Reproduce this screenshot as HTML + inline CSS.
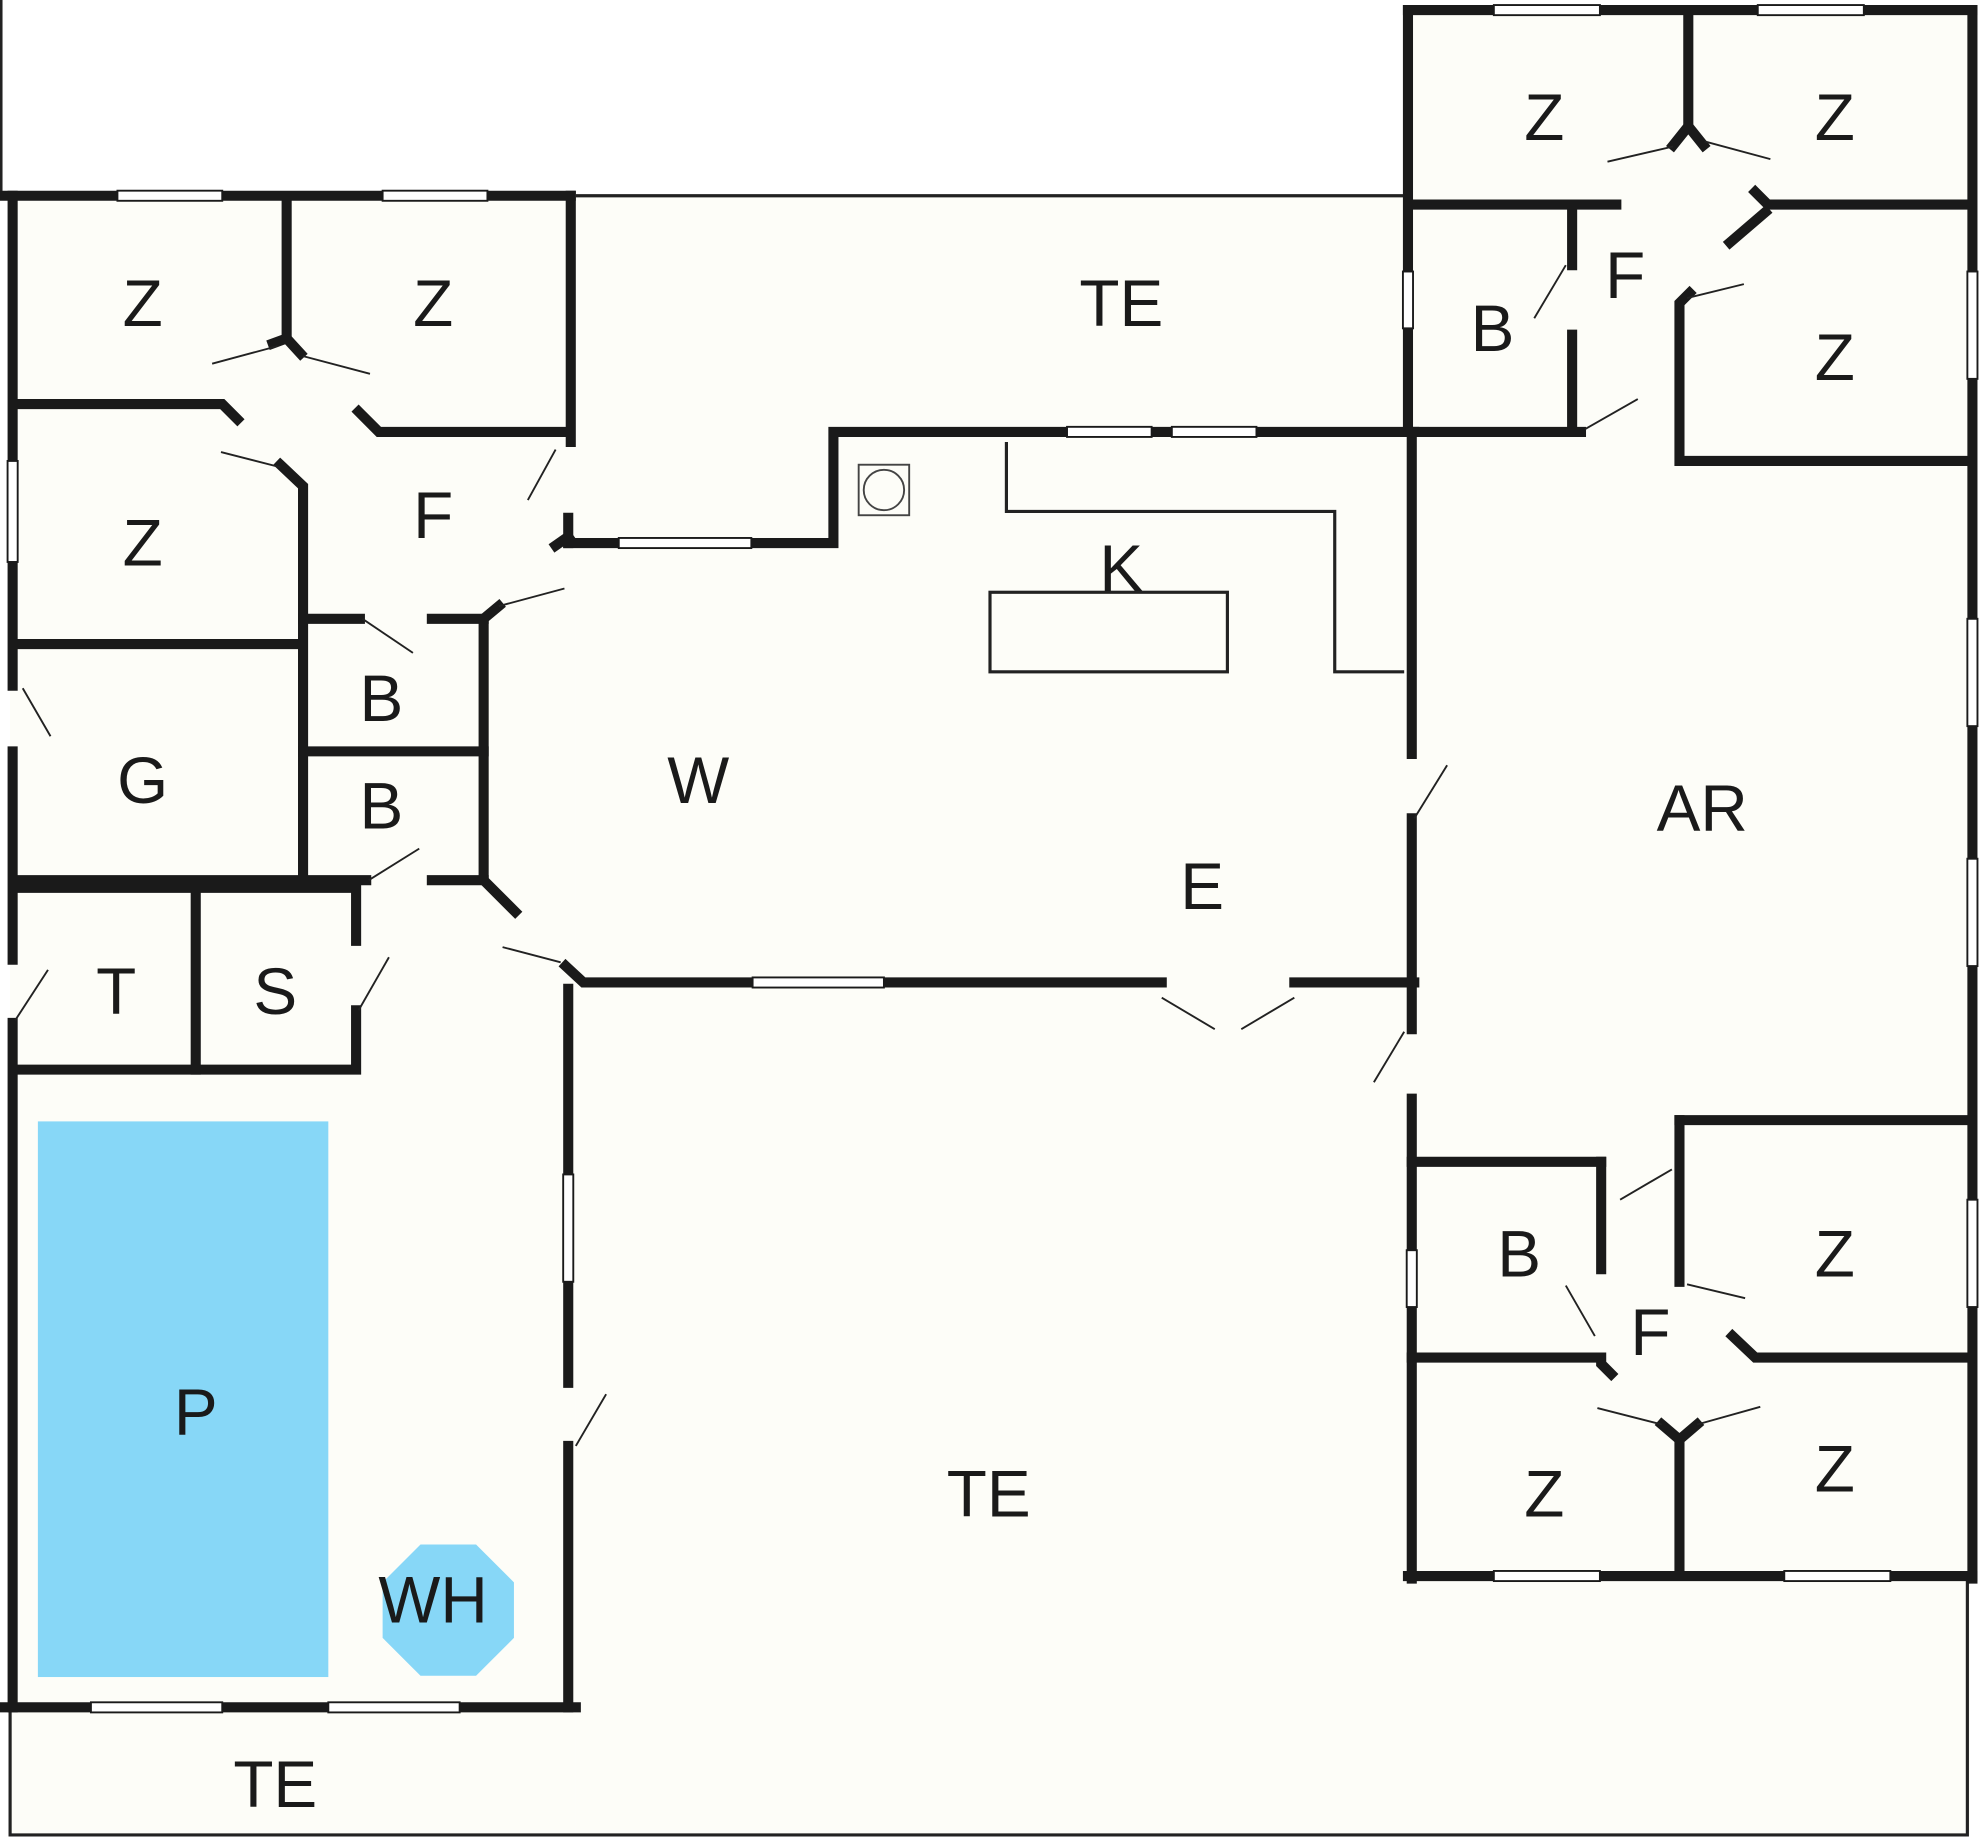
<!DOCTYPE html>
<html><head><meta charset="utf-8"><style>
html,body{margin:0;padding:0;background:#fff;}
svg{display:block;}
text{font-family:"Liberation Sans",sans-serif;font-size:52px;fill:#1a1a1a;text-anchor:middle;}
</style></head><body>
<svg width="1980" height="1845" viewBox="0 0 1568 1461" preserveAspectRatio="none" xmlns="http://www.w3.org/2000/svg">
<rect width="1568" height="1461" fill="#fff"/>
<!-- floor fills -->
<g fill="#fdfdf8">
<rect x="8" y="152" width="448" height="1300"/>
<rect x="456" y="155" width="660" height="1200"/>
<rect x="1112" y="5" width="450" height="1245"/>
<rect x="456" y="1250" width="1104" height="203"/>
</g>
<line x1="1" y1="0" x2="1" y2="152" stroke="#222" stroke-width="2"/>
<!-- thin terrace lines -->
<g stroke="#222" stroke-width="2.5" fill="none">
<line x1="456" y1="155" x2="1112" y2="155"/>
<polyline points="8,1355 8,1453 1558,1453 1558,1250"/>
<polyline points="797,350 797,405 1057,405 1057,532 1112,532"/>
<rect x="784" y="469" width="188" height="63"/>
</g>
<rect x="680" y="368" width="40" height="40" fill="none" stroke="#444" stroke-width="1.5"/>
<circle cx="700" cy="388" r="16" fill="none" stroke="#444" stroke-width="1.5"/>
<!-- pool -->
<rect x="30" y="888" width="230" height="440" fill="#87d7f7"/>
<polygon points="333,1223 377,1223 407,1253 407,1297 377,1327 333,1327 303,1297 303,1253" fill="#87d7f7"/>
<!-- walls -->
<g stroke="#1a1a1a" stroke-width="8" fill="none" stroke-linecap="square">
<line x1="0" y1="155" x2="452" y2="155"/>
<line x1="10" y1="155" x2="10" y2="365"/>
<line x1="10" y1="445" x2="10" y2="543"/>
<line x1="10" y1="595" x2="10" y2="760"/>
<line x1="10" y1="810" x2="10" y2="1352"/>
<line x1="452" y1="155" x2="452" y2="350"/>
<line x1="450" y1="410" x2="450" y2="430"/>
<line x1="227" y1="160" x2="227" y2="268"/>
<polyline points="12,320 176,320 188,332"/>
<polyline points="284,326 300,342 448,342"/>
<polyline points="222,368 240,385 240,695"/>
<line x1="12" y1="510" x2="236" y2="510"/>
<line x1="240" y1="490" x2="285" y2="490"/>
<line x1="342" y1="490" x2="383" y2="490"/>
<line x1="240" y1="595" x2="383" y2="595"/>
<line x1="12" y1="697" x2="290" y2="697"/>
<line x1="342" y1="697" x2="383" y2="697"/>
<polyline points="395,480 383,490 383,697 408,722"/>
<line x1="440" y1="432" x2="450" y2="425"/>
<polyline points="450,430 660,430 660,342 1120,342"/>
<line x1="12" y1="703" x2="278" y2="703"/>
<line x1="155" y1="703" x2="155" y2="847"/>
<line x1="282" y1="703" x2="282" y2="745"/>
<polyline points="282,800 282,847 12,847"/>
<polyline points="448,765 462,778 920,778"/>
<line x1="1025" y1="778" x2="1120" y2="778"/>
<line x1="450" y1="783" x2="450" y2="1095"/>
<line x1="450" y1="1145" x2="450" y2="1352"/>
<line x1="0" y1="1352" x2="456" y2="1352"/>
<line x1="1118" y1="348" x2="1118" y2="597"/>
<line x1="1118" y1="648" x2="1118" y2="815"/>
<line x1="1118" y1="870" x2="1118" y2="1250"/>
<line x1="1115" y1="8" x2="1115" y2="340"/>
<line x1="1115" y1="8" x2="1562" y2="8"/>
<line x1="1562" y1="8" x2="1562" y2="1250"/>
<line x1="1115" y1="1248" x2="1562" y2="1248"/>
<line x1="1337" y1="8" x2="1337" y2="100"/>
<line x1="1118" y1="162" x2="1280" y2="162"/>
<polyline points="1390,152 1400,162 1560,162"/>
<line x1="1370" y1="192" x2="1398" y2="168"/>
<line x1="1245" y1="168" x2="1245" y2="210"/>
<line x1="1245" y1="265" x2="1245" y2="342"/>
<line x1="1118" y1="342" x2="1252" y2="342"/>
<polyline points="1338,232 1330,240 1330,365 1560,365"/>
<line x1="1330" y1="887" x2="1560" y2="887"/>
<line x1="1330" y1="887" x2="1330" y2="1015"/>
<line x1="1118" y1="920" x2="1268" y2="920"/>
<line x1="1268" y1="920" x2="1268" y2="1005"/>
<line x1="1118" y1="1075" x2="1262" y2="1075"/>
<polyline points="1268,1075 1268,1080 1276,1088"/>
<polyline points="1372,1058 1390,1075 1560,1075"/>
<polyline points="1316,1128 1330,1140 1344,1128"/>
<line x1="1330" y1="1140" x2="1330" y2="1240"/>
<polyline points="216,272 227,268 238,280"/>
<polyline points="1325,115 1337,100 1349,115"/>
</g>
<!-- windows -->
<g fill="#fff" stroke="#1a1a1a" stroke-width="1.5">
<rect x="93" y="151" width="83" height="8"/><rect x="303" y="151" width="83" height="8"/>
<rect x="6" y="365" width="8" height="80"/>
<rect x="490" y="426" width="105" height="8"/>
<rect x="845" y="338" width="67" height="8"/><rect x="928" y="338" width="67" height="8"/>
<rect x="596" y="774" width="104" height="8"/>
<rect x="446" y="930" width="8" height="85"/>
<rect x="72" y="1348" width="104" height="8"/><rect x="260" y="1348" width="104" height="8"/>
<rect x="1183" y="4" width="84" height="8"/><rect x="1392" y="4" width="84" height="8"/>
<rect x="1111" y="215" width="8" height="45"/>
<rect x="1558" y="215" width="8" height="85"/><rect x="1558" y="490" width="8" height="85"/>
<rect x="1558" y="680" width="8" height="85"/><rect x="1558" y="950" width="8" height="85"/>
<rect x="1114" y="990" width="8" height="45"/>
<rect x="1183" y="1244" width="84" height="8"/><rect x="1413" y="1244" width="84" height="8"/>
</g>
<!-- door swings -->
<g stroke="#222" stroke-width="1.5">
<line x1="168" y1="288" x2="220" y2="274"/><line x1="240" y1="282" x2="293" y2="296"/>
<line x1="175" y1="358" x2="222" y2="370"/><line x1="418" y1="396" x2="440" y2="356"/>
<line x1="395" y1="480" x2="447" y2="466"/><line x1="287" y1="490" x2="327" y2="517"/>
<line x1="18" y1="545" x2="40" y2="583"/><line x1="292" y1="697" x2="332" y2="672"/>
<line x1="398" y1="750" x2="444" y2="762"/><line x1="12" y1="808" x2="38" y2="768"/>
<line x1="284" y1="800" x2="308" y2="758"/><line x1="920" y1="790" x2="962" y2="815"/>
<line x1="983" y1="815" x2="1025" y2="790"/><line x1="1120" y1="648" x2="1146" y2="606"/>
<line x1="1088" y1="857" x2="1112" y2="817"/><line x1="456" y1="1145" x2="480" y2="1104"/>
<line x1="1273" y1="128" x2="1325" y2="116"/><line x1="1350" y1="112" x2="1402" y2="126"/>
<line x1="1215" y1="252" x2="1240" y2="210"/><line x1="1336" y1="236" x2="1381" y2="225"/>
<line x1="1255" y1="340" x2="1297" y2="316"/><line x1="1283" y1="950" x2="1324" y2="926"/>
<line x1="1240" y1="1018" x2="1263" y2="1058"/><line x1="1336" y1="1017" x2="1382" y2="1028"/>
<line x1="1265" y1="1115" x2="1316" y2="1128"/><line x1="1344" y1="1128" x2="1394" y2="1114"/>
</g>
<!-- labels -->
<g>
<text x="113" y="258">Z</text><text x="343" y="258">Z</text><text x="888" y="258">TE</text>
<text x="113" y="448">Z</text><text x="343" y="426">F</text><text x="302" y="571">B</text>
<text x="302" y="656">B</text><text x="113" y="636">G</text><text x="553" y="636">W</text>
<text x="888" y="468">K</text><text x="952" y="720">E</text><text x="1348" y="658">AR</text>
<text x="92" y="803">T</text><text x="218" y="803">S</text><text x="155" y="1136">P</text>
<text x="343" y="1285">WH</text><text x="783" y="1201">TE</text><text x="218" y="1431">TE</text>
<text x="1223" y="111">Z</text><text x="1453" y="111">Z</text><text x="1287" y="236">F</text>
<text x="1182" y="278">B</text><text x="1453" y="301">Z</text><text x="1203" y="1011">B</text>
<text x="1453" y="1011">Z</text><text x="1307" y="1073">F</text><text x="1223" y="1201">Z</text>
<text x="1453" y="1181">Z</text>
</g>
</svg>
</body></html>
